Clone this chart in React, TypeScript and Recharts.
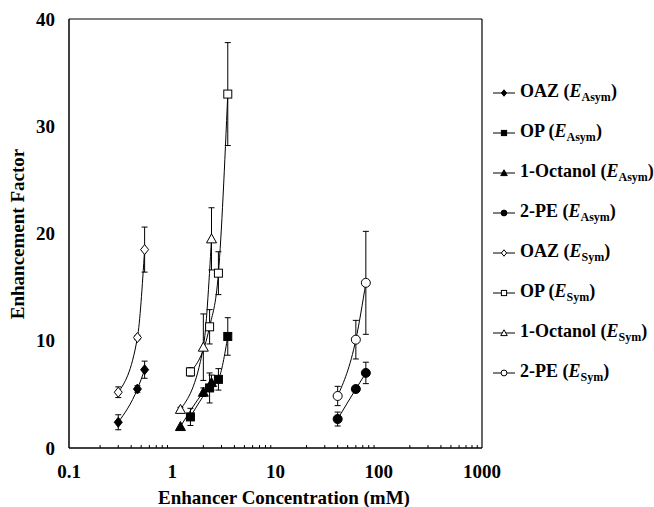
import React from "react";
import {
  ComposedChart,
  Line,
  XAxis,
  YAxis,
  ErrorBar,
  ReferenceLine,
} from "recharts";

// enhancer concentrations (mM)
const oazConc = [0.3, 0.46, 0.54];
const opConc = [1.5, 2.3, 2.8, 3.45];
const octConc = [1.2, 2.0, 2.4];
const peConc = [40, 60, 75];

// enhancement factors + error bars
const oazAsym = [2.4, 5.5, 7.3];
const oazAsymErr = [0.7, 0.3, 0.8];
const opAsym = [2.9, 5.6, 6.4, 10.4];
const opAsymErr = [0.8, 1.4, 1.0, 1.75];
const octAsym = [2.0, 5.2, 6.1];
const octAsymErr = [0, 0.4, 0.7];
const peAsym = [2.7, 5.5, 7.0];
const peAsymErr = [0.65, 0.3, 1.0];

const oazSym = [5.2, 10.3, 18.5];
const oazSymErr = [0.5, 0.2, 2.1];
const opSym = [7.1, 11.3, 16.3, 33.0];
const opSymErr = [0.4, 1.6, 2.0, 4.8];
const octSym = [3.6, 9.4, 19.5];
const octSymErr = [0.2, 3.1, 2.9];
const peSym = [4.85, 10.1, 15.4];
const peSymErr = [0.9, 1.8, 4.8];

const xMajor = [0.1, 1, 10, 100, 1000];
const xMajorLabels = ["0.1", "1", "10", "100", "1000"];
const xMinor = [
  0.2, 0.3, 0.4, 0.5, 0.6, 0.7, 0.8, 0.9,
  2, 3, 4, 5, 6, 7, 8, 9,
  20, 30, 40, 50, 60, 70, 80, 90,
  200, 300, 400, 500, 600, 700, 800, 900,
];
const yTicks = [0, 10, 20, 30, 40];

const SERIF = '"Liberation Serif", "Times New Roman", serif';

const pts = (xs: number[], ys: number[], es: number[]) =>
  xs.map((x, i) => ({ x, y: ys[i], err: es[i] }));

type Shape = "diamond" | "square" | "triangle" | "circle";

const SERIES: { id: string; name: string; sub: string; shape: Shape; filled: boolean; data: any[] }[] = [
  { id: "oazA", name: "OAZ", sub: "Asym", shape: "diamond", filled: true, data: pts(oazConc, oazAsym, oazAsymErr) },
  { id: "opA", name: "OP", sub: "Asym", shape: "square", filled: true, data: pts(opConc, opAsym, opAsymErr) },
  { id: "octA", name: "1-Octanol", sub: "Asym", shape: "triangle", filled: true, data: pts(octConc, octAsym, octAsymErr) },
  { id: "peA", name: "2-PE", sub: "Asym", shape: "circle", filled: true, data: pts(peConc, peAsym, peAsymErr) },
  { id: "oazS", name: "OAZ", sub: "Sym", shape: "diamond", filled: false, data: pts(oazConc, oazSym, oazSymErr) },
  { id: "opS", name: "OP", sub: "Sym", shape: "square", filled: false, data: pts(opConc, opSym, opSymErr) },
  { id: "octS", name: "1-Octanol", sub: "Sym", shape: "triangle", filled: false, data: pts(octConc, octSym, octSymErr) },
  { id: "peS", name: "2-PE", sub: "Sym", shape: "circle", filled: false, data: pts(peConc, peSym, peSymErr) },
];

function Marker({ cx, cy, shape, filled, s = 1 }: { cx: number; cy: number; shape: Shape; filled: boolean; s?: number }) {
  const common = { fill: filled ? "#000" : "#fff", stroke: "#000", strokeWidth: 1 };
  if (shape === "diamond")
    return <polygon points={`${cx},${cy - 5 * s} ${cx + 4 * s},${cy} ${cx},${cy + 5 * s} ${cx - 4 * s},${cy}`} {...common} />;
  if (shape === "square")
    return <rect x={cx - 4 * s} y={cy - 4 * s} width={8 * s} height={8 * s} {...common} />;
  if (shape === "triangle")
    return <polygon points={`${cx},${cy - 5 * s} ${cx + 5 * s},${cy + 4 * s} ${cx - 5 * s},${cy + 4 * s}`} {...common} />;
  return <circle cx={cx} cy={cy} r={4.5 * s} {...common} />;
}

const makeDot = (shape: Shape, filled: boolean) => (p: any) =>
  <Marker key={`${shape}-${filled}-${p.index}`} cx={p.cx} cy={p.cy} shape={shape} filled={filled} />;

const XTick = ({ x, y, payload }: any) => {
  const idx = xMajor.indexOf(payload.value);
  if (idx >= 0) {
    return (
      <text x={x} y={y + 30} textAnchor="middle" fontFamily={SERIF} fontWeight="bold" fontSize={19} fill="#000">
        {xMajorLabels[idx]}
      </text>
    );
  }
  return <line x1={x} x2={x} y1={y} y2={y - 3} stroke="#000" strokeWidth={1} />;
};

const LegendBox = () => (
  <div
    style={{
      position: "absolute",
      left: 493,
      top: 73,
      fontFamily: SERIF,
      fontWeight: "bold",
      fontSize: 18,
      color: "#000",
    }}
  >
    {SERIES.map((s) => (
      <div key={s.id} style={{ height: 40, display: "flex", alignItems: "center", whiteSpace: "nowrap" }}>
        <svg width={22} height={12} style={{ overflow: "visible" }}>
          <line x1={0} y1={6} x2={22} y2={6} stroke="#000" strokeWidth={1} />
          <Marker cx={11} cy={6} shape={s.shape} filled={s.filled} s={0.65} />
        </svg>
        <span style={{ marginLeft: 5 }}>
          {s.name} (<i>E</i>
          <sub style={{ fontSize: 12, verticalAlign: "-4px" }}>{s.sub}</sub>)
        </span>
      </div>
    ))}
  </div>
);

export default function App() {
  return (
    <div style={{ position: "absolute", left: 0, top: 0, width: 654, height: 507, background: "#fff" }}>
      <ComposedChart
        width={654}
        height={507}
        margin={{ top: 19, right: 172, left: 0, bottom: 0 }}
      >
        <XAxis
          dataKey="x"
          type="number"
          scale="log"
          domain={[0.1, 1000]}
          ticks={[...xMajor, ...xMinor]}
          allowDataOverflow
          height={59}
          tickLine={false}
          tickSize={0}
          tickMargin={0}
          tick={<XTick />}
          axisLine={{ stroke: "#000", strokeWidth: 1.5 }}
          interval={0}
          label={{
            content: () => (
              <text x={284} y={504} textAnchor="middle" fontFamily={SERIF} fontWeight="bold" fontSize={19} fill="#000">
                Enhancer Concentration (mM)
              </text>
            ),
          }}
        />
        <YAxis
          type="number"
          domain={[0, 40]}
          ticks={yTicks}
          width={69}
          tickLine={false}
          tickSize={0}
          tickMargin={14}
          tick={{ fontFamily: SERIF, fontWeight: "bold", fontSize: 19, fill: "#000" }}
          axisLine={{ stroke: "#000", strokeWidth: 1.5 }}
          label={{
            content: () => (
              <text
                x={17}
                y={234}
                transform="rotate(-90 17 234)"
                textAnchor="middle"
                dominantBaseline="central"
                fontFamily={SERIF}
                fontWeight="bold"
                fontSize={19}
                fill="#000"
              >
                Enhancement Factor
              </text>
            ),
          }}
        />
        <ReferenceLine y={40} stroke="#000" strokeWidth={1.2} />
        <ReferenceLine x={1000} stroke="#000" strokeWidth={1.2} />
        {SERIES.map((s) => (
          <Line
            key={s.id}
            data={s.data}
            dataKey="y"
            name={`${s.name} ${s.sub}`}
            type="monotone"
            stroke="#000"
            strokeWidth={1}
            dot={makeDot(s.shape, s.filled)}
            activeDot={false}
            isAnimationActive={false}
            legendType="none"
          >
            <ErrorBar dataKey="err" width={3} stroke="#000" strokeWidth={1} direction="y" />
          </Line>
        ))}
      </ComposedChart>
      <LegendBox />
    </div>
  );
}
